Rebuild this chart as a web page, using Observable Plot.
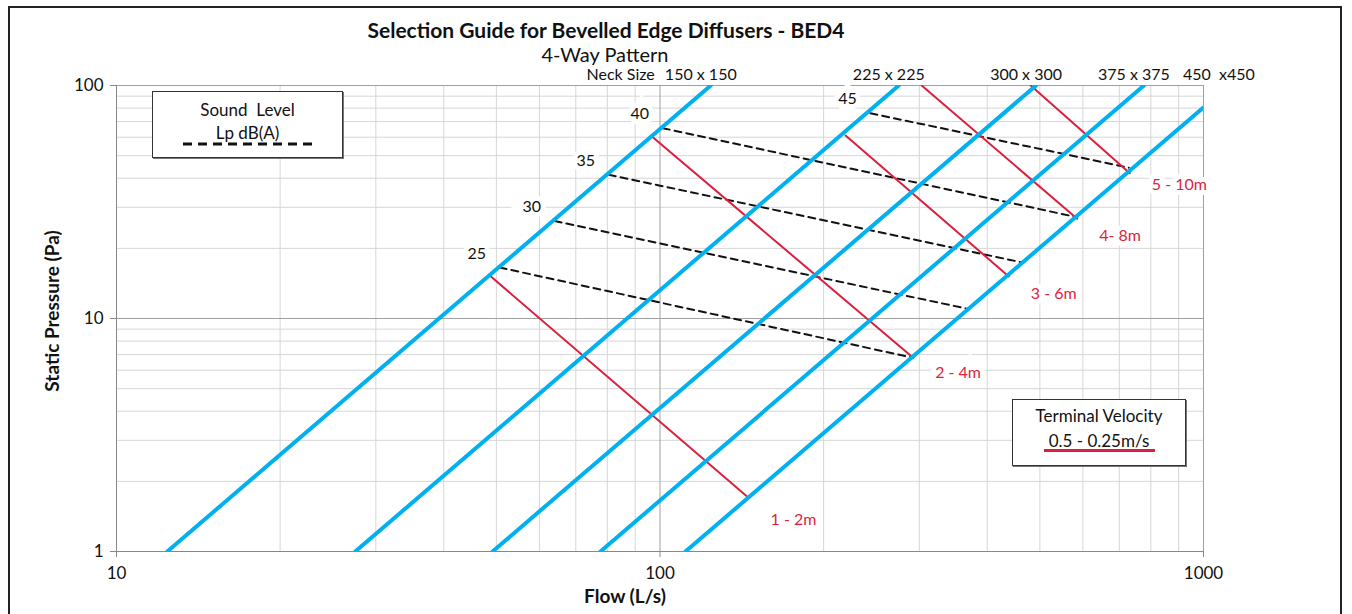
<!DOCTYPE html>
<html>
<head>
<meta charset="utf-8">
<script src="https://cdn.jsdelivr.net/npm/d3@7"></script>
<script src="https://cdn.jsdelivr.net/npm/@observablehq/plot@0.6"></script>
<style>
  body { margin: 0; background: #fff; }
  #wrap { position: relative; width: 1352px; height: 614px; overflow: hidden; background: #fff; font-family: Lato, "Open Sans", sans-serif; color: #111; }
  #border { position: absolute; left: 8px; top: 6px; width: 1334px; height: 700px; border: 2px solid #222; box-sizing: border-box; }
  #chart { position: absolute; left: 0; top: 0; }
  .t { position: absolute; white-space: nowrap; }
  #title { left: 0; width: 1212px; top: 17px; line-height: 26px; text-align: center; font-weight: bold; font-size: 21px; }
  #subtitle { left: 0; width: 1210px; top: 45px; line-height: 18px; text-align: center; font-size: 20px; }
  .legend { position: absolute; background: #fff; border: 1.5px solid #333; box-shadow: 1px 1px 0 #777; text-align: center; font-size: 17px; line-height: 20px; }
  #ylab { left: 51px; top: 311px; transform: translate(-50%, -50%) rotate(-90deg); font-weight: bold; font-size: 19px; }
  #xlab { left: 625px; top: 595px; transform: translate(-50%, -50%); font-weight: bold; font-size: 19px; }
</style>
</head>
<body>
<div id="wrap">
  <div id="border"></div>
  <div id="chart"></div>
  <div class="t" id="title">Selection Guide for Bevelled Edge Diffusers - BED4</div>
  <div class="t" id="subtitle">4-Way Pattern</div>
  <div class="t" id="ylab">Static Pressure (Pa)</div>
  <div class="t" id="xlab">Flow (L/s)</div>
  <div class="legend" id="leg1" style="left:152px;top:91px;width:191px;height:67px;box-sizing:border-box;">
    <div style="margin-top:8px;">Sound&nbsp; Level</div>
    <div style="margin-top:3px;">Lp dB(A)</div>
    <svg width="133" height="8" style="display:block;margin:-3px auto 0 auto;"><line x1="2" y1="4" x2="131" y2="4" stroke="#111" stroke-width="3" stroke-dasharray="9,6"/></svg>
  </div>
  <div class="legend" id="leg2" style="left:1012px;top:399px;width:174px;height:67px;box-sizing:border-box;">
    <div style="margin-top:6px;">Terminal Velocity</div>
    <div style="margin-top:5px;">0.5 - 0.25m/s</div>
    <div style="width:111px;height:3px;background:#dc1f3c;margin:-2px auto 0 auto;"></div>
  </div>
</div>
<script>
// ---- data ----
const neckSizes   = ["150 x 150", "225 x 225", "300 x 300", "375 x 375", "450  x450"];
const flowAt1Pa   = [12.4, 27.5, 49.2, 77.7, 111.4];   // L/s where each neck line meets 1 Pa
const flowAt100Pa = [124, 275, 492, 777, 1114];        // L/s where each neck line meets 100 Pa

const throwLabels    = ["1 - 2m", "2 - 4m", "3 - 6m", "4- 8m", "5 - 10m"];
const throwStartFlow = [48.6, 97.0, 219.5, 303, 481];
const throwStartP    = [15.3, 60.0, 61.0, 100, 100];
const throwEndFlow   = [145.5, 292.3, 438.3, 585.6, 731.8];
const throwEndP      = [1.70, 6.78, 15.15, 26.8, 42.0];
const throwLabelDy   = [22, 15, 17, 17, 12];

const soundLevels    = ["25", "30", "35", "40", "45"];
const soundStartFlow = [50.7, 64.0, 80.5, 101.2, 243.9];
const soundStartP    = [16.55, 26.2, 41.4, 65.6, 76.0];
const soundEndFlow   = [292.3, 368.3, 463.9, 585.6, 728.8];
const soundEndP      = [6.78, 11.0, 17.4, 27.2, 44.4];

const xTicks = [10, 100, 1000];
const yTicks = [1, 10, 100];
const xMinor = [20, 30, 40, 50, 60, 70, 80, 90, 200, 300, 400, 500, 600, 700, 800, 900];
const yMinor = [2, 3, 4, 5, 6, 7, 8, 9, 20, 30, 40, 50, 60, 70, 80, 90];

// ---- tables built from the arrays ----
const neckRows = neckSizes.flatMap((n, i) => [
  {neck: n, q: flowAt1Pa[i], p: 1},
  {neck: n, q: flowAt100Pa[i], p: 100}
]);
const neckTop = neckSizes.map((n, i) => ({neck: n, q: flowAt100Pa[i], p: 100}));
const throwRows = throwLabels.flatMap((t, i) => [
  {t, q: throwStartFlow[i], p: throwStartP[i]},
  {t, q: throwEndFlow[i], p: throwEndP[i]}
]);
const soundRows = soundLevels.flatMap((s, i) => [
  {s, q: soundStartFlow[i], p: soundStartP[i]},
  {s, q: soundEndFlow[i], p: soundEndP[i]}
]);
const soundLab = soundLevels.map((s, i) => ({s, q: soundStartFlow[i], p: soundStartP[i]}));

const FONT = "Lato, 'Open Sans', sans-serif";

const throwLabelMarks = throwLabels.map((t, i) => Plot.text([{t, q: throwEndFlow[i], p: throwEndP[i]}], {
  x: "q", y: "p", text: "t", textAnchor: "start", dx: 22, dy: throwLabelDy[i],
  fill: "#dc1f3c", fontSize: 16, stroke: "white", strokeWidth: 10, strokeLinejoin: "miter"
}));

const chart = Plot.plot({
  width: 1352,
  height: 614,
  marginLeft: 116,
  marginRight: 149,
  marginTop: 85,
  marginBottom: 63,
  style: {fontFamily: FONT, fontSize: "16px", color: "#111", background: "transparent"},
  x: {type: "log", domain: [10, 1000]},
  y: {type: "log", domain: [1, 100]},
  marks: [
    Plot.gridX(xMinor, {stroke: "#d6d6d6", strokeOpacity: 1, strokeWidth: 1}),
    Plot.gridY(yMinor, {stroke: "#d6d6d6", strokeOpacity: 1, strokeWidth: 1}),
    Plot.gridX(xTicks, {stroke: "#a0a0a0", strokeOpacity: 1, strokeWidth: 1}),
    Plot.gridY(yTicks, {stroke: "#a0a0a0", strokeOpacity: 1, strokeWidth: 1}),
    Plot.ruleX([10], {stroke: "#888"}),
    Plot.ruleY([1], {stroke: "#888"}),
    Plot.axisX({ticks: xTicks, tickFormat: d => String(d), tickSize: 6, tickPadding: 9, label: null, stroke: "#888", fontSize: 17}),
    Plot.axisY({ticks: yTicks, tickFormat: d => String(d), tickSize: 6, tickPadding: 7, label: null, stroke: "#888", fontSize: 17}),
    Plot.line(soundRows, {x: "q", y: "p", z: "s", stroke: "#111", strokeWidth: 2, strokeDasharray: "7,5", clip: "frame"}),
    Plot.line(throwRows, {x: "q", y: "p", z: "t", stroke: "#dc1f3c", strokeWidth: 2, clip: "frame"}),
    Plot.line(neckRows, {x: "q", y: "p", z: "neck", stroke: "#00b0f0", strokeWidth: 4, clip: "frame"}),
    Plot.text(soundLab, {x: "q", y: "p", text: "s", dx: -23, dy: -14, fill: "#111", fontSize: 16,
      stroke: "white", strokeWidth: 10, strokeLinejoin: "miter"}),
    ...throwLabelMarks,
    Plot.text(neckTop, {x: "q", y: "p", text: "neck", dx: -10, dy: -11, fill: "#111", fontSize: 16}),
    Plot.text(neckTop.slice(0, 1), {x: "q", y: "p", text: () => "Neck Size", textAnchor: "end", dx: -56, dy: -11, fill: "#111", fontSize: 16})
  ]
});
document.getElementById("chart").appendChild(chart);
</script>
</body>
</html>
